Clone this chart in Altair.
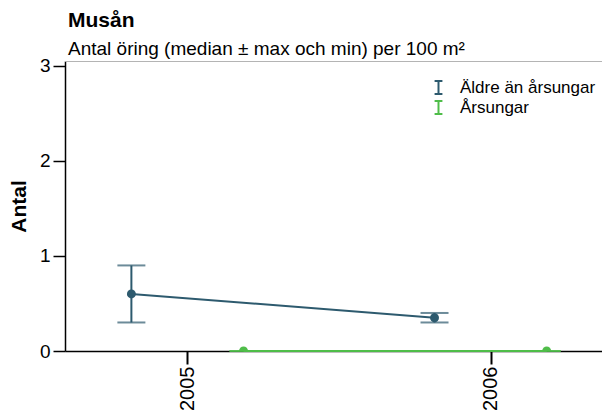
import altair as alt
import pandas as pd

years = [2005, 2005, 2006, 2006]
series = ["Äldre än årsungar", "Årsungar", "Äldre än årsungar", "Årsungar"]
median = [0.6, 0.0, 0.35, 0.0]
vmin = [0.3, 0.0, 0.3, 0.0]
vmax = [0.9, 0.0, 0.4, 0.0]

series_order = ["Äldre än årsungar", "Årsungar"]
colors = ["#2d5a6e", "#4fbd49"]

df = pd.DataFrame({"year": years, "series": series, "median": median,
                   "min": vmin, "max": vmax})

FONT = "Liberation Sans"
xscale = alt.Scale(domain=[2004.596, 2006.3675], nice=False, zero=False)
yscale = alt.Scale(domain=[0, 3.05], nice=False)
cscale = alt.Scale(domain=series_order, range=colors)

base = alt.Chart(df).transform_calculate(
    xpos="datum.year + (datum.series == 'Årsungar' ? 0.185 : -0.185)"
)

x_enc = alt.X("xpos:Q", scale=xscale, title=None,
              axis=alt.Axis(values=[2005, 2006], format="d", labelAngle=-90,
                            labelAlign="right", labelBaseline="middle",
                            labelFontSize=20, labelPadding=2, tickSize=13,
                            tickWidth=2, domainWidth=1.5, grid=False,
                            domainColor="black", tickColor="black",
                            labelColor="black"))
y_axis = alt.Axis(values=[0, 1, 2, 3], format="d", labelFontSize=19, tickSize=12,
                  tickWidth=1.5, domainWidth=1.5, grid=False,
                  titleFontSize=21, titleFontWeight="bold", titlePadding=10,
                  domainColor="black", tickColor="black", labelColor="black",
                  titleColor="black", labelPadding=3)

legend = alt.Legend(title=None, orient="none", legendX=365, legendY=18,
                    symbolType="M-0.6,-1H0.6M0,-1V1M-0.6,1H0.6",
                    symbolStrokeWidth=2, symbolSize=170, symbolFillColor="transparent",
                    labelFontSize=17, labelColor="black", rowPadding=2,
                    clipHeight=17, labelOffset=13, padding=0)

color = alt.Color("series:N", scale=cscale, legend=legend, sort=series_order)
color_nl = alt.Color("series:N", scale=cscale, legend=None)

lines = base.mark_line(strokeWidth=2).encode(
    x=x_enc, y=alt.Y("median:Q", scale=yscale, title="Antal", axis=y_axis),
    color=color, detail="series:N")
rules = base.mark_rule(strokeWidth=2).encode(
    x="xpos:Q", y="min:Q", y2="max:Q", color=color_nl)
cap_lo = base.mark_tick(orient="horizontal", size=28, thickness=2).encode(
    x="xpos:Q", y="min:Q", color=color_nl)
cap_hi = base.mark_tick(orient="horizontal", size=28, thickness=2).encode(
    x="xpos:Q", y="max:Q", color=color_nl)
points = base.mark_circle(size=80, opacity=1, clip=True).encode(
    x="xpos:Q", y="median:Q", color=color_nl)
top_border = alt.Chart(df).mark_rule(color="#b0b0b0", strokeWidth=1, clip=True).encode(
    x=alt.value(0), x2=alt.value(2000), y=alt.value(0))

chart = alt.layer(lines, rules, cap_lo, cap_hi, points, top_border).properties(
    width=594, height=403,
    autosize=alt.AutoSizeParams(type="fit", contains="padding"),
    padding={"left": 0, "top": 3, "right": 0, "bottom": 0},
    title=alt.TitleParams("Musån", subtitle="Antal öring (median ± max och min) per 100 m²",
                          anchor="start", frame="group", fontSize=21, fontWeight="bold",
                          subtitleFontSize=19, color="black", subtitleColor="black",
                          font=FONT, subtitleFont=FONT, offset=-2, subtitlePadding=9, dx=3)
).configure(font=FONT).configure_view(stroke=None)

chart.save("out.html", embed_options={"renderer": "svg", "actions": False})
